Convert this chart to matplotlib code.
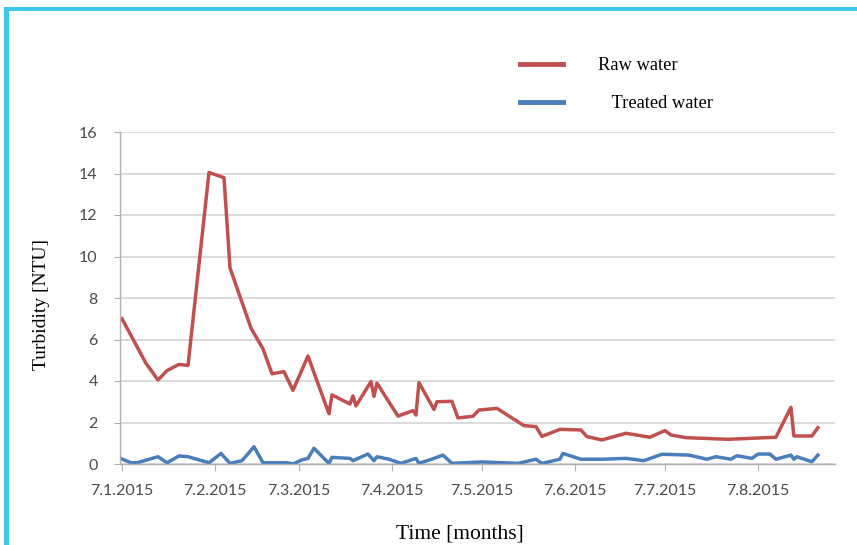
"""Turbidity of raw and treated water over time."""

import matplotlib.pyplot as plt
import pandas as pd
from matplotlib.patches import Rectangle

# Raw water readings
raw_dates = [
    "2015-01-07", "2015-01-15", "2015-01-19", "2015-01-22", "2015-01-26",
    "2015-01-29", "2015-02-05", "2015-02-10", "2015-02-12", "2015-02-19",
    "2015-02-23", "2015-02-26", "2015-03-02", "2015-03-05", "2015-03-10",
    "2015-03-17", "2015-03-18", "2015-03-24", "2015-03-25", "2015-03-26",
    "2015-03-31", "2015-04-01", "2015-04-02", "2015-04-07", "2015-04-09",
    "2015-04-14", "2015-04-15", "2015-04-16", "2015-04-21", "2015-04-22",
    "2015-04-27", "2015-04-29", "2015-05-04", "2015-05-06", "2015-05-12",
    "2015-05-21", "2015-05-25", "2015-05-27", "2015-06-02", "2015-06-09",
    "2015-06-11", "2015-06-16", "2015-06-24", "2015-07-02", "2015-07-07",
    "2015-07-09", "2015-07-14", "2015-07-28", "2015-08-13", "2015-08-18",
    "2015-08-19", "2015-08-25", "2015-08-27",
]
raw_values = [
    7.0, 4.85, 4.05, 4.5, 4.8,
    4.75, 14.05, 13.8, 9.45, 6.55,
    5.55, 4.35, 4.45, 3.55, 5.2,
    2.42, 3.33, 2.89, 3.28, 2.8,
    3.97, 3.26, 3.9, 2.76, 2.31,
    2.57, 2.36, 3.92, 2.63, 3.0,
    3.02, 2.22, 2.3, 2.6, 2.68,
    1.85, 1.8, 1.33, 1.67, 1.64,
    1.32, 1.16, 1.48, 1.29, 1.61,
    1.4, 1.27, 1.19, 1.29, 2.73,
    1.35, 1.35, 1.75,
]

# Treated water readings
treated_dates = [
    "2015-01-07", "2015-01-10", "2015-01-12", "2015-01-19", "2015-01-22",
    "2015-01-26", "2015-01-29", "2015-02-05", "2015-02-09", "2015-02-12",
    "2015-02-16", "2015-02-20", "2015-02-23", "2015-03-03", "2015-03-05",
    "2015-03-08", "2015-03-10", "2015-03-12", "2015-03-15", "2015-03-17",
    "2015-03-18", "2015-03-24", "2015-03-25", "2015-03-30", "2015-04-01",
    "2015-04-02", "2015-04-06", "2015-04-10", "2015-04-15", "2015-04-16",
    "2015-04-21", "2015-04-24", "2015-04-27", "2015-05-07", "2015-05-19",
    "2015-05-25", "2015-05-27", "2015-06-02", "2015-06-03", "2015-06-09",
    "2015-06-16", "2015-06-24", "2015-06-30", "2015-07-06", "2015-07-15",
    "2015-07-21", "2015-07-24", "2015-07-29", "2015-07-31", "2015-08-05",
    "2015-08-07", "2015-08-11", "2015-08-13", "2015-08-18", "2015-08-19",
    "2015-08-20", "2015-08-25", "2015-08-27",
]
treated_values = [
    0.24, 0.06, 0.06, 0.35, 0.06,
    0.39, 0.35, 0.06, 0.51, 0.03,
    0.16, 0.83, 0.06, 0.06, 0.0,
    0.2, 0.27, 0.76, 0.32, 0.03,
    0.32, 0.27, 0.16, 0.48, 0.16,
    0.35, 0.23, 0.03, 0.27, 0.03,
    0.27, 0.43, 0.03, 0.1, 0.03,
    0.23, 0.03, 0.23, 0.51, 0.23,
    0.23, 0.27, 0.16, 0.47, 0.43,
    0.23, 0.35, 0.23, 0.4, 0.27,
    0.48, 0.48, 0.23, 0.43, 0.23,
    0.35, 0.11, 0.43,
]

tick_dates = [
    "2015-01-07", "2015-02-07", "2015-03-07", "2015-04-07",
    "2015-05-07", "2015-06-07", "2015-07-07", "2015-08-07",
]
y_ticks = [0, 2, 4, 6, 8, 10, 12, 14, 16]

RAW_COLOR = "#c0504d"
TREATED_COLOR = "#4a7ebb"
TICK_COLOR = "#4a4a4a"
SERIF = "Liberation Serif"


def plot_turbidity(savepath: str = "out.png") -> None:
    """Draw both turbidity series on a date axis and save the figure."""
    fig = plt.figure(figsize=(8.57, 5.45), dpi=100)
    ax = fig.add_axes([120 / 857, 81 / 545, 715 / 857, 332 / 545])

    raw_x = pd.to_datetime(raw_dates)
    treated_x = pd.to_datetime(treated_dates)

    ax.plot(raw_x, raw_values, color=RAW_COLOR, lw=2.5, label="Raw water")
    ax.plot(treated_x, treated_values, color=TREATED_COLOR, lw=2.5,
            label="   Treated water")

    # Axis limits and ticks
    start = pd.Timestamp(tick_dates[0])
    ax.set_xlim(start - pd.Timedelta(days=0.67), start + pd.Timedelta(days=237.7))
    ax.set_ylim(0, 16)

    ticks = pd.to_datetime(tick_dates)
    ax.set_xticks(ticks)
    ax.set_xticklabels([f"{t.day}.{t.month}.{t.year}" for t in ticks])
    ax.set_yticks(y_ticks)

    ax.grid(True, axis="y", color="#d4d4d4", lw=1.2)
    ax.set_axisbelow(True)
    for side in ("top", "right"):
        ax.spines[side].set_visible(False)
    for side in ("left", "bottom"):
        ax.spines[side].set_color("#b0b0b0")
        ax.spines[side].set_linewidth(1.0)

    ax.tick_params(axis="x", length=5, color="#b0b0b0", pad=9.5,
                   labelsize=11.5, labelcolor=TICK_COLOR)
    ax.tick_params(axis="y", length=4, color="#b0b0b0", pad=12,
                   labelsize=11.5, labelcolor=TICK_COLOR)
    for lab in ax.get_xticklabels() + ax.get_yticklabels():
        lab.set_family("Lato")

    ax.set_xlabel("Time [months]", family=SERIF, fontsize=15.5)
    ax.xaxis.set_label_coords((460 - 120) / 715, (464 - 524) / 332)
    ax.set_ylabel("Turbidity [NTU]", family=SERIF, fontsize=14)
    ax.yaxis.set_label_coords((50 - 120) / 715, (464 - 304) / 332)

    leg = ax.legend(
        loc="upper left",
        bbox_to_anchor=(520 / 857, 1 - 57.5 / 545),
        bbox_transform=fig.transFigure,
        frameon=False,
        prop={"family": SERIF, "size": 13.3},
        handlelength=2.32,
        handletextpad=1.9,
        labelspacing=1.12,
        borderpad=0,
        borderaxespad=0,
    )
    for line in leg.get_lines():
        line.set_linewidth(3.5)

    # Cyan frame on the left and top edges
    cyan = "#3cc8f0"
    fig.add_artist(Rectangle((4 / 857, 0), 5 / 857, 1 - 7 / 545,
                             transform=fig.transFigure, color=cyan, lw=0))
    fig.add_artist(Rectangle((4 / 857, 1 - 11 / 545), 853 / 857, 4 / 545,
                             transform=fig.transFigure, color=cyan, lw=0))

    fig.savefig(savepath, dpi=100)
    plt.close(fig)


if __name__ == "__main__":
    plot_turbidity()
